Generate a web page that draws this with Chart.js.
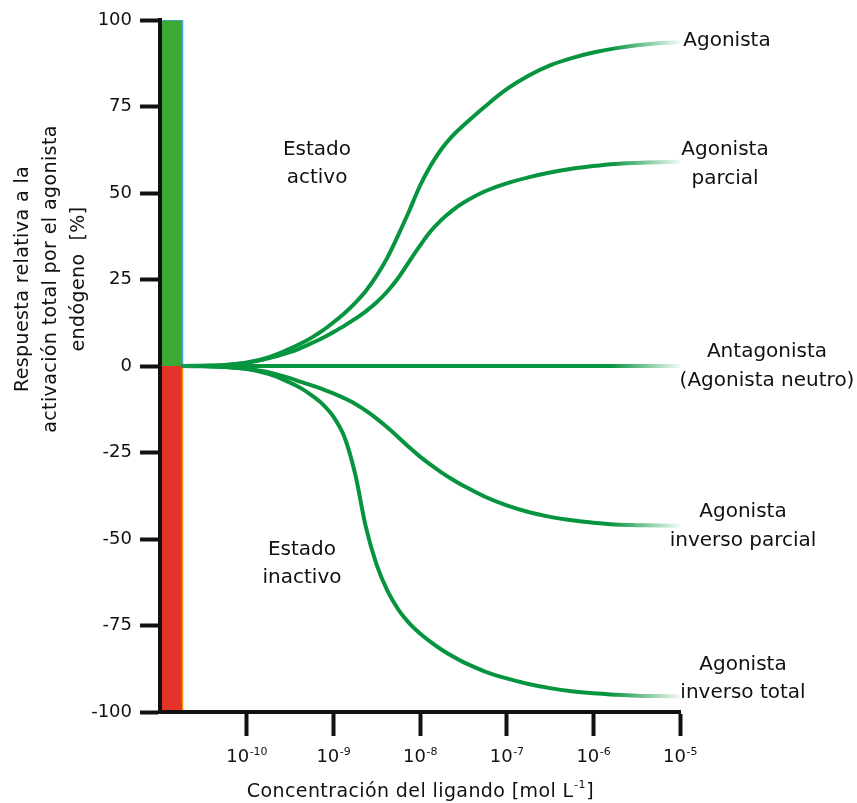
<!DOCTYPE html>
<html lang="es">
<head>
<meta charset="utf-8">
<title>Respuesta frente a concentración del ligando</title>
<script src="https://cdn.jsdelivr.net/npm/chart.js@4.4.1/dist/chart.umd.min.js"></script>
<style>
  html, body { margin: 0; padding: 0; background: #ffffff; }
  #wrap { width: 857px; height: 803px; }
</style>
</head>
<body>
<div id="wrap"><canvas id="chart" width="857" height="803"></canvas></div>
<script>
// Ligand concentration, as log10 of mol/L (finer sampling where the curves bend fastest)
const concExp = [-10.75, -10.5, -10.25, -10, -9.75,
  -9.5, -9.375, -9.25, -9.125, -9, -8.875, -8.75, -8.625,
  -8.5, -8.375, -8.25, -8.125, -8, -7.875, -7.75, -7.625, -7.5,
  -7.25, -7, -6.75, -6.5, -6.25, -6, -5.75, -5.5, -5.25, -5];

// Response relative to the full activation by the endogenous agonist [%]
const agonista = [0, 0.1, 0.3, 1.0, 2.5,
  5.0, 6.5, 8.2, 10.2, 12.6, 15.2, 18.2, 21.7,
  26.1, 31.4, 37.9, 44.8, 52.1, 58.0, 62.8, 66.5, 69.5,
  75, 80, 83.9, 86.9, 89, 90.6, 91.8, 92.7, 93.3, 93.6];
const agonistaParcial = [0, 0.1, 0.3, 0.9, 2.2,
  4.0, 5.2, 6.6, 8.1, 9.8, 11.6, 13.6, 15.8,
  18.4, 21.6, 25.5, 30.2, 34.8, 39.0, 42.3, 45.0, 47.2,
  50.5, 52.8, 54.5, 55.9, 57, 57.8, 58.4, 58.7, 58.9, 59.0];
const antagonista = [0, 0, 0, 0, 0,
  0, 0, 0, 0, 0, 0, 0, 0,
  0, 0, 0, 0, 0, 0, 0, 0, 0,
  0, 0, 0, 0, 0, 0, 0, 0, 0, 0];
const inversoParcial = [0, -0.1, -0.3, -0.8, -1.8,
  -3.5, -4.6, -5.6, -6.7, -7.9, -9.3, -10.9, -12.9,
  -15.2, -17.8, -20.6, -23.5, -26.2, -28.6, -30.8, -32.8, -34.6,
  -37.8, -40.3, -42.2, -43.6, -44.6, -45.3, -45.8, -46, -46.1, -46.2];
const inversoTotal = [0, -0.1, -0.3, -0.9, -2.3,
  -4.8, -6.4, -8.5, -11.0, -14.6, -20.3, -31, -46.5,
  -57.5, -65, -70.4, -74.3, -77.3, -79.8, -82, -83.9, -85.6,
  -88.3, -90.3, -91.9, -93.1, -94, -94.6, -95, -95.3, -95.4, -95.5];

// Axis ticks
const yTicks = [-100, -75, -50, -25, 0, 25, 50, 75, 100];
const xTickExps = [-10, -9, -8, -7, -6, -5];

// Reference band of constitutive activity on the left edge
const bandStartExp = -11;
const bandEndExp = -10.74;
const bandTop = 100;
const bandBottom = -100;

const FONT = '"DejaVu Sans", "Noto Sans", sans-serif';
const GREEN = 'rgb(7,148,63)';
const INK = '#111111';

const toConc = e => Math.pow(10, e);
const series = values => concExp.map((e, i) => ({ x: toConc(e), y: values[i] }));

// Curves fade in where they leave the band and fade out at their right end
function curveColor(context) {
  const chart = context.chart;
  if (!chart.chartArea) return GREEN;
  const xs = chart.scales.x;
  const x0 = xs.getPixelForValue(toConc(concExp[0]));
  const x1 = xs.getPixelForValue(toConc(concExp[concExp.length - 1]));
  const g = chart.ctx.createLinearGradient(x0, 0, x1, 0);
  g.addColorStop(0, 'rgba(7,148,63,0.35)');
  g.addColorStop(0.1, 'rgba(7,148,63,1)');
  g.addColorStop(0.86, 'rgba(7,148,63,1)');
  g.addColorStop(1, 'rgba(7,148,63,0.05)');
  return g;
}

function curve(values) {
  return {
    data: series(values),
    borderColor: curveColor,
    borderWidth: 4,
    pointRadius: 0,
    fill: false,
    tension: 0.35,
    order: 1
  };
}

const bandEdge = toConc(bandEndExp);
const bandStart = toConc(bandStartExp);

// Text placed around the plot: annotations, curve names and axis titles
const textPlugin = {
  id: 'chartText',
  afterDraw(chart) {
    const ctx = chart.ctx;
    const xs = chart.scales.x;
    ctx.save();
    ctx.fillStyle = INK;
    ctx.textBaseline = 'middle';
    ctx.textAlign = 'center';

    const lines = (arr, x, y, size, gap) => {
      ctx.font = size + 'px ' + FONT;
      arr.forEach((t, i) => ctx.fillText(t, x, y + i * gap));
    };

    // States
    lines(['Estado', 'activo'], 317, 150, 20, 28);
    lines(['Estado', 'inactivo'], 302, 550, 20, 28);

    // Curve names
    lines(['Agonista'], 727, 41, 20, 29);
    lines(['Agonista', 'parcial'], 725, 150, 20, 29);
    lines(['Antagonista', '(Agonista neutro)'], 767, 352, 20, 29);
    lines(['Agonista', 'inverso parcial'], 743, 512, 20, 29);
    lines(['Agonista', 'inverso total'], 743, 665, 20, 28);

    // X tick labels with superscript exponents
    xTickExps.forEach(e => {
      const px = xs.getPixelForValue(toConc(e));
      const base = '10';
      const sup = '-' + Math.abs(e);
      ctx.font = '18px ' + FONT;
      const wb = ctx.measureText(base).width;
      ctx.font = '11px ' + FONT;
      const ws = ctx.measureText(sup).width;
      const left = px - (wb + ws) / 2;
      ctx.textAlign = 'left';
      ctx.textBaseline = 'alphabetic';
      ctx.font = '18px ' + FONT;
      ctx.fillText(base, left, 762);
      ctx.font = '11px ' + FONT;
      ctx.fillText(sup, left + wb + 0.5, 755);
    });

    // X axis title
    ctx.letterSpacing = '0.4px';
    {
      const a = 'Concentración del ligando [mol L';
      const s = '-1';
      const b = ']';
      ctx.font = '19px ' + FONT;
      const wa = ctx.measureText(a).width;
      const wb = ctx.measureText(b).width;
      ctx.font = '11px ' + FONT;
      const wsup = ctx.measureText(s).width;
      const cx = (chart.chartArea.left + chart.chartArea.right) / 2;
      const left = cx - (wa + wsup + wb) / 2;
      ctx.textAlign = 'left';
      ctx.textBaseline = 'alphabetic';
      ctx.font = '19px ' + FONT;
      ctx.fillText(a, left, 797);
      ctx.font = '11px ' + FONT;
      ctx.fillText(s, left + wa + 0.5, 788);
      ctx.font = '19px ' + FONT;
      ctx.fillText(b, left + wa + wsup + 1, 797);
    }

    // Y axis title, three rotated lines
    const yTitle = ['Respuesta relativa a la', 'activación total por el agonista', 'endógeno  [%]'];
    const yx = [23, 51, 79];
    ctx.font = '19px ' + FONT;
    ctx.textAlign = 'center';
    ctx.textBaseline = 'middle';
    yTitle.forEach((t, i) => {
      ctx.save();
      ctx.translate(yx[i], 279);
      ctx.rotate(-Math.PI / 2);
      ctx.fillText(t, 0, 0);
      ctx.restore();
    });
    ctx.letterSpacing = '0px';
    ctx.restore();
  }
};

new Chart(document.getElementById('chart'), {
  type: 'line',
  data: {
    datasets: [
      curve(agonista),
      curve(agonistaParcial),
      curve(antagonista),
      curve(inversoParcial),
      curve(inversoTotal),
      {
        // active band outline (top and right edge)
        data: [{ x: bandStart, y: bandTop }, { x: bandEdge, y: bandTop }, { x: bandEdge, y: 0 }],
        borderColor: '#3fa9e0', borderWidth: 1.5, pointRadius: 0, fill: false, tension: 0, order: 5
      },
      {
        // inactive band right edge
        data: [{ x: bandEdge, y: 0 }, { x: bandEdge, y: bandBottom }],
        borderColor: '#f39200', borderWidth: 1.5, pointRadius: 0, fill: false, tension: 0, order: 5
      },
      {
        // active band
        data: [{ x: bandStart, y: bandTop }, { x: bandEdge, y: bandTop }],
        borderColor: 'rgba(0,0,0,0)', borderWidth: 1, backgroundColor: '#3aaa35',
        pointRadius: 0, fill: 'origin', tension: 0, order: 10
      },
      {
        // inactive band
        data: [{ x: bandStart, y: bandBottom }, { x: bandEdge, y: bandBottom }],
        borderColor: 'rgba(0,0,0,0)', borderWidth: 1, backgroundColor: '#e6332a',
        pointRadius: 0, fill: 'origin', tension: 0, order: 10
      }
    ]
  },
  options: {
    responsive: false,
    animation: false,
    devicePixelRatio: 1,
    layout: { padding: { left: 0, right: 177, top: 20, bottom: 0 } },
    plugins: { legend: { display: false }, tooltip: { enabled: false } },
    scales: {
      x: {
        type: 'logarithmic',
        min: toConc(-11),
        max: toConc(-5),
        afterBuildTicks(scale) {
          scale.ticks = xTickExps.map(e => ({ value: toConc(e), major: true }));
        },
        afterFit(scale) { scale.height = 91; },
        ticks: { display: false },
        grid: { drawOnChartArea: false, drawTicks: true, tickLength: 24, tickWidth: 4, tickColor: INK },
        border: { display: true, color: INK, width: 4, z: 2 }
      },
      y: {
        type: 'linear',
        min: -100,
        max: 100,
        afterBuildTicks(scale) {
          scale.ticks = yTicks.map(v => ({ value: v }));
        },
        afterFit(scale) { scale.width = 160; },
        ticks: {
          color: INK,
          padding: 8,
          font: { family: FONT, size: 18 },
          callback: v => String(v)
        },
        grid: { drawOnChartArea: false, drawTicks: true, tickLength: 20, tickWidth: 4, tickColor: INK },
        border: { display: true, color: INK, width: 4, z: 2 }
      }
    }
  },
  plugins: [textPlugin]
});
</script>
</body>
</html>
